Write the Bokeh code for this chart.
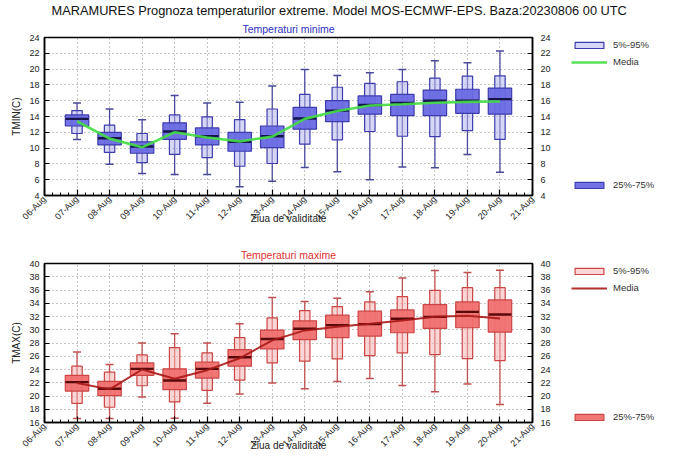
import math
from bokeh.plotting import figure
from bokeh.models import FixedTicker, LinearAxis, Range1d, Legend, LegendItem, Title
from bokeh.layouts import column, row
from bokeh.embed import file_html
from bokeh.resources import INLINE

# ---------------- data ----------------
days = [7, 8, 9, 10, 11, 12, 13, 14, 15, 16, 17, 18, 19, 20]
tick_days = list(range(6, 22))
tick_labels = ["%02d-Aug" % d for d in tick_days]

tmin_min = [11.1, 7.95, 6.8, 6.65, 6.65, 5.1, 5.8, 7.55, 7.0, 6.0, 7.6, 7.5, 9.2, 6.95]
tmin_p5 = [11.85, 9.45, 8.15, 9.2, 8.8, 7.7, 8.05, 10.5, 11.05, 12.1, 11.5, 11.45, 12.2, 11.1]
tmin_p25 = [12.8, 10.4, 9.35, 11.1, 10.4, 9.6, 10.05, 12.4, 13.35, 14.3, 14.1, 14.1, 14.4, 14.3]
tmin_med = [13.7, 11.25, 10.2, 12.1, 11.5, 10.8, 11.5, 13.75, 14.75, 15.45, 15.7, 16.0, 16.0, 16.2]
tmin_p75 = [14.2, 12.0, 10.8, 13.2, 12.55, 12.0, 12.8, 15.15, 16.0, 16.6, 16.8, 17.35, 17.45, 17.6]
tmin_p95 = [14.75, 12.9, 11.85, 14.2, 13.95, 13.6, 14.95, 16.8, 17.7, 18.2, 18.4, 18.85, 19.1, 19.15]
tmin_max = [15.7, 14.95, 13.6, 16.65, 15.7, 15.8, 17.85, 19.95, 19.2, 19.55, 19.95, 21.05, 20.8, 22.3]
tmin_mean = [13.4, 11.2, 10.1, 12.0, 11.35, 10.85, 11.45, 13.7, 14.7, 15.4, 15.55, 15.75, 15.85, 15.9]

tmax_min = [16.6, 16.6, 19.85, 16.65, 18.9, 20.3, 21.95, 21.1, 22.2, 22.65, 21.6, 20.65, 21.8, 18.7]
tmax_p5 = [18.9, 18.3, 21.55, 19.1, 20.85, 22.4, 25.0, 25.25, 25.6, 26.1, 26.5, 26.25, 25.65, 25.35]
tmax_p25 = [20.75, 20.05, 23.1, 20.95, 22.7, 24.5, 27.1, 28.5, 28.8, 29.05, 29.55, 30.2, 30.3, 29.65]
tmax_med = [22.1, 21.1, 24.1, 22.35, 24.1, 25.85, 28.6, 30.15, 30.7, 30.85, 31.65, 31.95, 32.7, 32.3]
tmax_p75 = [23.1, 22.2, 25.0, 24.1, 25.1, 27.0, 29.95, 31.35, 32.2, 32.8, 33.0, 33.8, 34.2, 34.5]
tmax_p95 = [24.5, 23.6, 26.2, 27.3, 26.5, 28.8, 31.8, 32.9, 33.5, 34.2, 35.0, 35.95, 36.35, 36.35]
tmax_max = [26.65, 24.75, 28.0, 29.4, 28.0, 30.9, 34.85, 34.25, 34.75, 35.75, 37.8, 38.95, 38.65, 39.0]
tmax_mean = [21.95, 21.0, 24.0, 22.6, 23.9, 25.7, 28.4, 29.9, 30.45, 30.9, 31.4, 31.95, 32.1, 31.7]

main_title = "MARAMURES  Prognoza temperaturilor extreme.  Model MOS-ECMWF-EPS. Baza:20230806 00 UTC"
legend_labels = ["5%-95%", "Media", "25%-75%"]
FONT = "Liberation Sans"

blue = dict(whisker="#4a4a9a", light="#b4b4ee", dark="#6a6ae4", edge="#3c3cae",
            median="#15154a", mean="#44dd44", mean_w=2.6)
red = dict(whisker="#c05050", light="#f8b4b4", dark="#f07070", edge="#cc4444",
           median="#5a0a0a", mean="#a81818", mean_w=2.0)


def bare(fig):
    fig.outline_line_color = None
    fig.grid.visible = False
    fig.background_fill_color = "white"
    fig.border_fill_color = "white"


def make_panel(frame_h, top, bottom, ylo, yhi, ylabel, subtitle, sub_color,
               lo, p5, p25, med, p75, p95, hi, mean, c):
    p = figure(frame_width=488, frame_height=frame_h, x_range=Range1d(6, 21), y_range=Range1d(ylo, yhi),
               output_backend="svg", toolbar_location=None,
               min_border_left=44, min_border_right=34,
               min_border_top=top, min_border_bottom=bottom)
    p.title = Title(text=subtitle, align="center", text_color=sub_color, text_font=FONT,
                    text_font_size="10.5px", text_font_style="normal", standoff=5)

    yt = FixedTicker(ticks=list(range(ylo, yhi + 1, 2)))
    minor = [d + q / 4 for d in range(6, 21) for q in (1, 2, 3)]
    xt = FixedTicker(ticks=tick_days, minor_ticks=minor)

    p.xaxis.ticker = xt
    p.xaxis.major_label_overrides = {d: l for d, l in zip(tick_days, tick_labels)}
    p.xaxis.major_label_orientation = math.pi / 4
    p.xaxis.axis_label = "Ziua de validitate"
    p.xaxis.axis_label_standoff = -15
    p.yaxis.ticker = yt
    p.yaxis.axis_label = ylabel

    ry = LinearAxis(ticker=yt)
    p.add_layout(ry, "right")

    for ax in [p.xaxis[0], p.yaxis[0], ry]:
        ax.axis_line_color = "black"
        ax.axis_line_width = 1.5
        ax.major_tick_in = 5
        ax.major_tick_out = 0
        ax.major_tick_line_color = "black"
        ax.major_tick_line_width = 1.2
        ax.minor_tick_line_color = None
        ax.major_label_text_font = FONT
        ax.major_label_text_font_size = "9px"
        ax.major_label_text_color = "#222222"
        ax.major_label_standoff = 6
        ax.axis_label_text_font = FONT
        ax.axis_label_text_font_size = "10px"
        ax.axis_label_text_font_style = "normal"
        ax.axis_label_text_color = "#222222"
    p.xaxis.major_tick_in = 6
    p.xaxis.minor_tick_in = 3
    p.xaxis.minor_tick_out = 0
    p.xaxis.minor_tick_line_color = "black"
    p.xaxis.major_label_standoff = 2
    p.yaxis.major_label_standoff = 5
    p.yaxis.axis_label_standoff = 4
    ry.major_label_standoff = 8

    p.xgrid.ticker = xt
    p.ygrid.ticker = yt
    for g in (p.xgrid[0], p.ygrid[0]):
        g.grid_line_color = "#8a8a8a"
        g.grid_line_dash = "1 3"
        g.grid_line_width = 1

    p.outline_line_color = "black"
    p.outline_line_width = 1.5
    p.background_fill_color = "white"
    p.border_fill_color = "white"

    light_style = dict(fill_color=c["light"], fill_alpha=0.55, line_color=c["edge"], line_width=1.2)
    dark_style = dict(fill_color=c["dark"], fill_alpha=0.95, line_color=c["edge"], line_width=1.2)
    mean_style = dict(line_color=c["mean"], line_width=c["mean_w"], line_alpha=0.9)

    p.segment(x0=days, y0=lo, x1=days, y1=hi, line_color=c["whisker"], line_width=1.3)
    p.scatter(x=days + days, y=lo + hi, marker="dash", size=8, line_color=c["whisker"], line_width=1.5)
    p.vbar(x=days, width=0.32, bottom=p5, top=p95, **light_style)
    p.vbar(x=days, width=0.72, bottom=p25, top=p75, **dark_style)
    p.scatter(x=days, y=med, marker="dash", size=23, line_color=c["median"], line_width=2.4)
    p.line(x=days, y=mean, **mean_style)
    return p, light_style, dark_style, mean_style


def make_key(height, light_style, dark_style, mean_style):
    # key swatches: renderers whose (off-range) data are never visible, used only by the legends
    s = figure(width=98, height=height, x_range=Range1d(0, 1), y_range=Range1d(0, 1),
               output_backend="svg", toolbar_location=None,
               x_axis_location=None, y_axis_location=None,
               min_border_left=3, min_border_right=0, min_border_top=0, min_border_bottom=0)
    bare(s)
    r_light = s.vbar(x=[5], width=0.3, top=[6], bottom=[5], **light_style)
    r_mean = s.line(x=[5, 6], y=[5, 5], **mean_style)
    r_dark = s.vbar(x=[5], width=0.3, top=[6], bottom=[5], **dark_style)
    common = dict(orientation="vertical", border_line_color=None, background_fill_alpha=0,
                  padding=0, spacing=6, glyph_width=36, glyph_height=8,
                  label_height=10, label_standoff=6, label_text_font=FONT,
                  label_text_font_size="9.5px", label_text_color="#333333")
    s.add_layout(Legend(items=[LegendItem(label=legend_labels[0], renderers=[r_light]),
                               LegendItem(label=legend_labels[1], renderers=[r_mean])],
                        location="top_left", margin=2, **common), "center")
    s.add_layout(Legend(items=[LegendItem(label=legend_labels[2], renderers=[r_dark])],
                        location=(2, 0), margin=0, **common), "center")
    return s


header = figure(frame_width=488, frame_height=1, x_range=Range1d(0, 1), y_range=Range1d(0, 1),
                output_backend="svg", toolbar_location=None,
                x_axis_location=None, y_axis_location=None,
                min_border_left=44, min_border_right=132, min_border_top=0, min_border_bottom=0)
bare(header)
header.title = Title(text=main_title, align="left", offset=7, text_font=FONT, text_font_size="12.8px",
                     text_font_style="normal", text_color="#111111", standoff=0)

p1, ls1, ds1, ms1 = make_panel(158, 14, 42, 4, 24, "TMIN(C)", "Temperaturi minime", "#3030c0",
                               tmin_min, tmin_p5, tmin_p25, tmin_med, tmin_p75, tmin_p95, tmin_max,
                               tmin_mean, blue)
p2, ls2, ds2, ms2 = make_panel(159, 26, 40, 16, 40, "TMAX(C)", "Temperaturi maxime", "#e03030",
                               tmax_min, tmax_p5, tmax_p25, tmax_med, tmax_p75, tmax_p95, tmax_max,
                               tmax_mean, red)
k1 = make_key(214, ls1, ds1, ms1)
k2 = make_key(225, ls2, ds2, ms2)

layout = column(header, row(p1, k1, spacing=0), row(p2, k2, spacing=0), spacing=0)
open("out.html", "w").write(file_html(layout, INLINE))
